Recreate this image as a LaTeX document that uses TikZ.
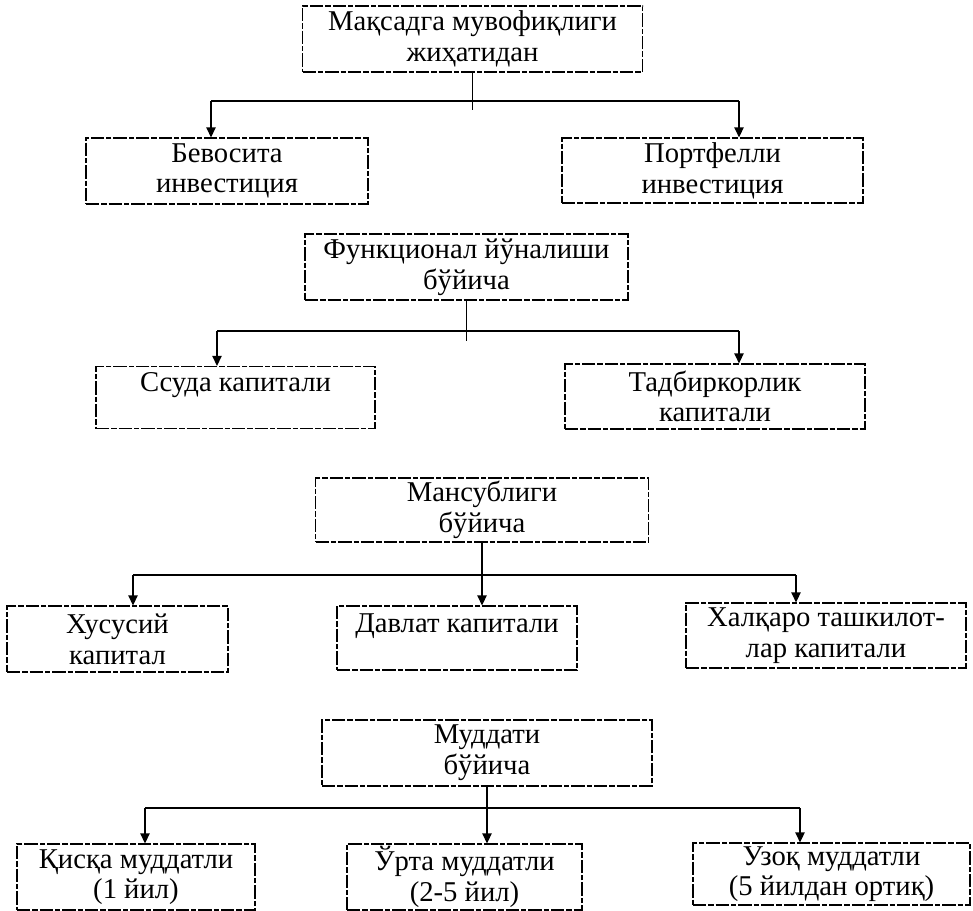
\documentclass[tikz,border=0pt]{standalone}
\usepackage{fontspec}
\setmainfont{Liberation Serif}
\usetikzlibrary{arrows.meta}
\tikzset{
  box/.style={draw=black, line width=0.9pt, dash pattern=on 10pt off 1.5pt on 4pt off 1.5pt,
    inner sep=0pt, align=center, font=\fontsize{21.5pt}{23pt}\selectfont},
  bx/.style 2 args={minimum width=#1*0.75pt, minimum height=#2*0.75pt},
  conn/.style={draw=black, line width=1.1pt},
  arr/.style={conn, -{Triangle[length=7.5pt,width=7pt]}}
}
\begin{document}
\begin{tikzpicture}[x=0.75pt,y=-0.75pt]
\useasboundingbox[fill=white] (0,0) rectangle (973,910);
% group 1
\node[box,bx={340}{66}] (top) at (472.5,39) {Мақсадга мувофиқлиги\\жиҳатидан};
\node[box,bx={282}{66}] (b1) at (227,171) {Бевосита\\инвестиция};
\node[box,bx={301}{65}] (b2) at (712.5,170.5) {Портфелли\\инвестиция};
\coordinate (h1l) at (211,101);
\coordinate (h1r) at (739,101);
\draw[conn] (top.south) -- ++(0,37);
\draw[conn] (h1l) -- (h1r);
\draw[arr] (h1l) -- (h1l |- b1.north);
\draw[arr] (h1r) -- (h1r |- b2.north);
% group 2
\node[box,bx={323}{66}] (f) at (466.5,267) {Функционал йўналиши\\бўйича};
\node[box,bx={279}{62}] (s) at (235.5,397.5) {Ссуда капитали\\\mbox{}};
\node[box,bx={300}{65}] (t) at (715,396.5) {Тадбиркорлик\\капитали};
\coordinate (h2l) at (217,331);
\coordinate (h2r) at (739,331);
\draw[conn] (f.south) -- ++(0,40);
\draw[conn] (h2l) -- (h2r);
\draw[arr] (h2l) -- (h2l |- s.north);
\draw[arr] (h2r) -- (h2r |- t.north);
% group 3
\node[box,bx={333}{64}] (m) at (482,510) {Мансублиги\\бўйича};
\node[box,bx={221}{66}] (hu) at (117.5,639) {Хусусий\\капитал};
\node[box,bx={240}{64}] (d) at (457,638) {Давлат капитали\\\mbox{}};
\node[box,bx={280}{65}] (x) at (826,635.5) {Халқаро ташкилот-\\лар капитали};
\coordinate (h3l) at (133,575);
\coordinate (h3r) at (796,575);
\draw[conn] (h3l) -- (h3r);
\draw[arr] (m.south) -- (m.south |- d.north);
\draw[arr] (h3l) -- (h3l |- hu.north);
\draw[arr] (h3r) -- (h3r |- x.north);
% group 4
\node[box,bx={330}{66}] (mu) at (487,753) {Муддати\\бўйича};
\node[box,bx={238}{66}] (q) at (136,877) {Қисқа муддатли\\(1 йил)};
\node[box,bx={235}{66}] (u) at (464.5,877) {Ўрта муддатли\\(2-5 йил)};
\node[box,bx={277}{62}] (z) at (831.5,874) {Узоқ муддатли\\(5 йилдан ортиқ)};
\coordinate (h4l) at (145,808);
\coordinate (h4r) at (800,808);
\draw[conn] (h4l) -- (h4r);
\draw[arr] (mu.south) -- (mu.south |- u.north);
\draw[arr] (h4l) -- (h4l |- q.north);
\draw[arr] (h4r) -- (h4r |- z.north);
\end{tikzpicture}
\end{document}
